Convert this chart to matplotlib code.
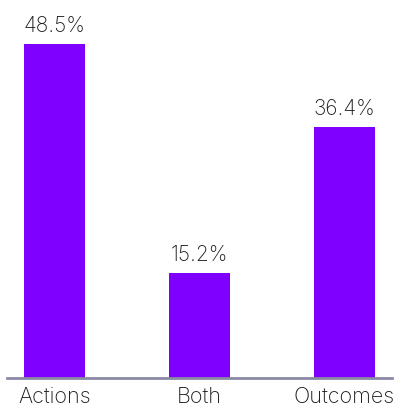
import matplotlib.pyplot as plt

# 类别及占比
categories = ['Actions', 'Both', 'Outcomes']
shares = [48.5, 15.2, 36.4]
value_labels = ['48.5%', '15.2%', '36.4%']

plt.rcParams['font.family'] = ['Inter', 'DejaVu Sans']

fig = plt.figure(figsize=(3.96, 4.05), dpi=100)
ax = fig.add_axes([7 / 396, 27 / 405, 385 / 396, 378 / 405])

x = range(len(categories))
bars = ax.bar(x, shares, width=0.42, color='#8000FF')

# 柱顶数值
for b, txt in zip(bars, value_labels):
    ax.annotate(txt, (b.get_x() + b.get_width() / 2, b.get_height()),
                xytext=(0, 6), textcoords='offset points',
                ha='center', va='bottom', fontsize=15, color='#1e1e1e',
                fontweight='light')

ax.set_xlim(-0.328, 2.328)
ax.set_ylim(0, 54.9)
ax.set_xticks(list(x))
ax.set_xticklabels(categories, fontsize=15.5, color='#1e1e1e', fontweight='light')
ax.tick_params(axis='x', length=0, pad=6)
ax.set_yticks([])

# 只保留底边
for s in ['top', 'right', 'left']:
    ax.spines[s].set_visible(False)
ax.spines['bottom'].set_color('#8a8aa6')
ax.spines['bottom'].set_linewidth(2)

plt.savefig('out.png', dpi=100)
